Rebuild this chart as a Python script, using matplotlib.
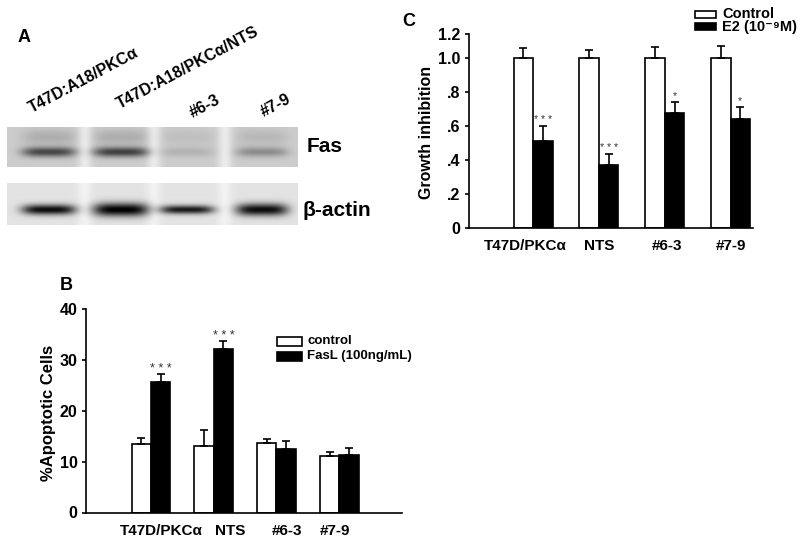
import numpy as np
import matplotlib
matplotlib.use("Agg")
import matplotlib.pyplot as plt
from matplotlib.patches import Rectangle
from matplotlib.transforms import ScaledTranslation

plt.rcParams['font.family'] = ['Liberation Sans', 'DejaVu Sans']

# ---------------- data ----------------
blot_lanes = ["T47D:A18/PKCα", "T47D:A18/PKCα/NTS", "#6-3", "#7-9"]
fas_band = [0.52, 0.55, 0.10, 0.25]        # band darkness
fas_smear = [0.12, 0.12, 0.05, 0.08]
actin_band = [0.85, 0.90, 0.80, 0.85]
actin_thick = [5.0, 6.5, 4.2, 6.0]

b_categories = ["T47D/PKCα", "NTS", "#6-3", "#7-9"]
b_control = [13.4, 13.0, 13.6, 11.1]
b_control_err = [1.2, 3.2, 0.8, 0.7]
b_fasl = [25.7, 32.1, 12.4, 11.4]
b_fasl_err = [1.5, 1.7, 1.7, 1.3]
b_sig = ["* * *", "* * *", "", ""]
b_yticks = [0, 10, 20, 30, 40]

c_categories = ["T47D/PKCα", "NTS", "#6-3", "#7-9"]
c_control = [1.0, 1.0, 1.0, 1.0]
c_control_err = [0.06, 0.047, 0.063, 0.07]
c_e2 = [0.514, 0.372, 0.679, 0.640]
c_e2_err = [0.086, 0.062, 0.063, 0.070]
c_sig = ["* * *", "* * *", "*", "*"]
c_yticks = [0, 0.2, 0.4, 0.6, 0.8, 1.0, 1.14]
c_yticklabels = ["0", ".2", ".4", ".6", ".8", "1.0", "1.2"]

# ---------------- figure ----------------
W, H = 800, 539
fig = plt.figure(figsize=(W / 100, H / 100), dpi=100)


def px_axes(x0, y0, x1, y1):
    return fig.add_axes([x0 / W, 1 - y1 / H, (x1 - x0) / W, (y1 - y0) / H])


def ftext(x, y, s, **kw):
    fig.text(x / W, 1 - y / H, s, **kw)


# ---------------- Panel A: blot ----------------
lane_x = np.array([42, 114, 180, 255])  # local pixel centres
lane_hw = np.array([27, 28, 27, 26])


def blot_strip(width, height, base, gap_light, bands, band_y, thick, smear=None, smear_y=None):
    xx, yy = np.meshgrid(np.arange(width) + 0.5, np.arange(height) + 0.5)
    img = np.full((height, width), base)
    for gx in [78, 147, 218]:
        img += gap_light * np.exp(-((xx - gx) / 7.0) ** 2)
    for i, (cx, hw) in enumerate(zip(lane_x, lane_hw)):
        prof = np.exp(-((xx - cx) / hw) ** 4)
        img -= bands[i] * prof * np.exp(-((yy - band_y) / thick[i]) ** 2)
        if smear is not None:
            img -= smear[i] * prof * np.exp(-((yy - smear_y) / 8.0) ** 2)
    return np.clip(img, 0, 1)


axf = px_axes(7, 127, 298, 167)
fas_img = blot_strip(291, 40, 0.80, 0.12, fas_band, 25, [5.0] * 4, fas_smear, 10)
axf.imshow(fas_img, cmap='gray', vmin=0, vmax=1, aspect='auto', interpolation='bilinear')
axf.axis('off')

axa = px_axes(7, 183, 298, 225)
act_img = blot_strip(291, 42, 0.89, 0.06, actin_band, 27, actin_thick)
axa.imshow(act_img, cmap='gray', vmin=0, vmax=1, aspect='auto', interpolation='bilinear')
axa.axis('off')

ftext(24, 37, "A", fontsize=13, fontweight='bold', ha='center', va='center')
lane_label_pos = [(84, 80), (188, 68), (205, 106), (276, 106)]
for name, (lx, ly) in zip(blot_lanes, lane_label_pos):
    ftext(lx, ly, name, fontsize=11.5, fontweight='bold', rotation=28,
          rotation_mode='anchor', ha='center', va='center')
ftext(307, 147, "Fas", fontsize=15, fontweight='bold', ha='left', va='center')
ftext(302, 210, "β-actin", fontsize=15, fontweight='bold', ha='left', va='center')


def style_axes(ax):
    for s in ['top', 'right']:
        ax.spines[s].set_visible(False)
    for s in ['left', 'bottom']:
        ax.spines[s].set_linewidth(1.2)
    ax.tick_params(axis='x', length=0, pad=8)
    ax.tick_params(axis='y', length=3, width=1.2, direction='out', pad=3)
    for lab in ax.get_yticklabels():
        lab.set_fontsize(11.5)
        lab.set_fontweight('bold')
    for lab in ax.get_xticklabels():
        lab.set_fontsize(11)
        lab.set_fontweight('bold')


def grouped(ax, ctrl, ctrl_err, trt, trt_err, sig, bw, offs_pt, sig_fs):
    x = np.arange(1, len(ctrl) + 1)
    ax.bar(x - bw / 2, ctrl, bw, color='white', edgecolor='black', linewidth=1.2, zorder=2)
    ax.bar(x + bw / 2, trt, bw, color='black', edgecolor='black', linewidth=1.2, zorder=2)
    z = np.zeros(len(ctrl))
    ax.errorbar(x - bw / 2, ctrl, yerr=[z, ctrl_err], fmt='none', ecolor='black',
                elinewidth=1.2, capsize=3, capthick=1.2, zorder=3)
    ax.errorbar(x + bw / 2, trt, yerr=[z, trt_err], fmt='none', ecolor='black',
                elinewidth=1.2, capsize=3, capthick=1.2, zorder=3)
    for xi, v, e, s in zip(x, trt, trt_err, sig):
        if s:
            ax.annotate(s, (xi + bw / 2, v + e), xytext=(0, offs_pt), textcoords='offset points',
                        ha='center', va='center', fontsize=sig_fs, color='#333333')
    return x


# ---------------- Panel B ----------------
axB = px_axes(86, 309, 402, 512.5)
xb = grouped(axB, b_control, b_control_err, b_fasl, b_fasl_err, b_sig, 0.307, 3.5, 9)
axB.set_xlim(-0.035, 5.0)
axB.set_ylim(0, 40)
axB.set_yticks(b_yticks)
axB.set_xticks(xb)
axB.set_xticklabels(b_categories)
style_axes(axB)
for lab, dx in zip(axB.get_xticklabels(), [10, 16, 11, -4]):
    lab.set_transform(lab.get_transform() + ScaledTranslation(dx / 100, 0, fig.dpi_scale_trans))
axB.set_ylabel("%Apoptotic Cells", fontsize=12, fontweight='bold')
axB.yaxis.set_label_coords((56 - 86) / 316, (512.5 - 413) / 203.5)
ftext(66, 285, "B", fontsize=13, fontweight='bold', ha='center', va='center')

# legend B
for (y0, fc, lab) in [(337, 'white', 'control'), (352, 'black', 'FasL (100ng/mL)')]:
    fig.patches.append(Rectangle((277 / W, 1 - (y0 + 9) / H), 25 / W, 9 / H,
                                 transform=fig.transFigure, facecolor=fc,
                                 edgecolor='black', linewidth=1.2))
    ftext(307, y0 + 4.5, lab, fontsize=9.5, fontweight='bold', ha='left', va='center')

# ---------------- Panel C ----------------
axC = px_axes(469, 34, 753, 228.3)
xc = grouped(axC, c_control, c_control_err, c_e2, c_e2_err, c_sig, 0.296, 4.5, 7.5)
axC.set_xlim(0.027, 4.34)
axC.set_ylim(0, 1.14)
axC.set_yticks(c_yticks)
axC.set_yticklabels(c_yticklabels)
axC.set_xticks(xc)
axC.set_xticklabels(c_categories)
style_axes(axC)
for lab, dx in zip(axC.get_xticklabels(), [-8, 0, 2, 0]):
    lab.set_transform(lab.get_transform() + ScaledTranslation(dx / 100, 0, fig.dpi_scale_trans))
axC.set_ylabel("Growth inhibition", fontsize=11.5, fontweight='bold')
axC.yaxis.set_label_coords((434 - 469) / 284, (228.3 - 132) / 194.3)
ftext(409, 22, "C", fontsize=13, fontweight='bold', ha='center', va='center')

# legend C
for (y0, base, fc, lab) in [(11.5, 18.5, 'white', 'Control'),
                            (23, 31.5, 'black', 'E2 (10⁻⁹M)')]:
    fig.patches.append(Rectangle((695 / W, 1 - (y0 + 6.5) / H), 21 / W, 6.5 / H,
                                 transform=fig.transFigure, facecolor=fc,
                                 edgecolor='black', linewidth=1.2))
    ftext(722, base, lab, fontsize=10.5, fontweight='bold', ha='left', va='baseline')

fig.savefig("out.png", dpi=100)
